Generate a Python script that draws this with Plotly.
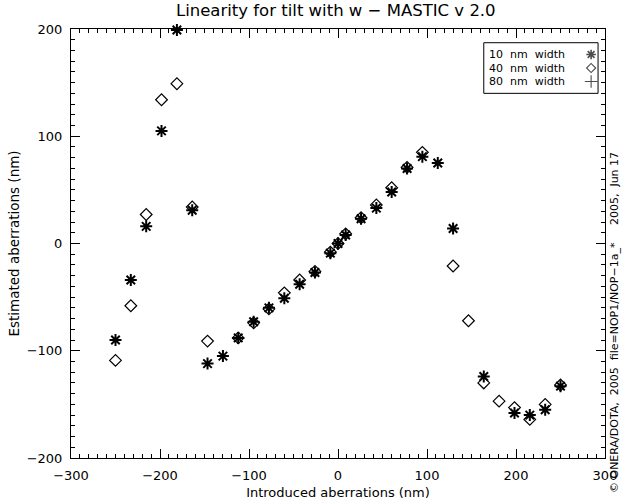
import plotly.graph_objects as go

# Introduced aberrations (nm)
x_nm = [-250, -232.8, -215.5, -198.3, -181.0, -163.8, -146.6, -129.3, -112.1, -94.8,
        -77.6, -60.3, -43.1, -25.9, -8.6, 0, 8.6, 25.9, 43.1, 60.3,
        77.6, 94.8, 112.1, 129.3, 146.6, 163.8, 181.0, 198.3, 215.5, 232.8, 250]

# Estimated aberrations, 10 nm width (asterisk)
est_10nm = [-90, -34, 16, 105, 199, 31, -112, -105, -88, -73,
            -60, -51, -38, -27, -9, 0, 8, 23, 33, 48,
            70, 81, 75, 14, None, -124, None, -158, -160, -155, -133]

# Estimated aberrations, 40 nm width (diamond)
est_40nm = [-109, -58, 27, 134, 149, 34, -91, None, -88, -74,
            -61, -46, -34, -26, -8, 0, 9, 24, 36, 52,
            71, 85, None, -21, -72, -130, -147, -153, -164, -150, -132]

legend_labels = ["10  nm  width", "40  nm  width", "80  nm  width"]
legend_symbols = ["asterisk-open", "diamond-open", "cross-thin-open"]

x_ticks = [-300, -200, -100, 0, 100, 200, 300]
y_ticks = [-200, -100, 0, 100, 200]

FONT = "DejaVu Sans"
BLACK = "black"

fig = go.Figure()
fig.add_trace(go.Scatter(x=x_nm, y=est_40nm, mode="markers", showlegend=False,
                         cliponaxis=False,
                         marker=dict(symbol="diamond-open", size=9, color=BLACK,
                                     line=dict(width=1.2, color=BLACK))))
fig.add_trace(go.Scatter(x=x_nm, y=est_10nm, mode="markers", showlegend=False,
                         cliponaxis=False,
                         marker=dict(symbol="asterisk-open", size=10, color=BLACK,
                                     line=dict(width=2, color=BLACK))))

# legend symbols drawn on an overlay axis (fractions of the plot area)
leg_x = [0.974, 0.974, 0.974]
leg_y = [0.9406, 0.9091, 0.8776]
fig.add_trace(go.Scatter(x=leg_x, y=leg_y, xaxis="x2", yaxis="y2", mode="markers",
                         showlegend=False, hoverinfo="skip",
                         marker=dict(symbol=legend_symbols, size=[8, 7, 9], color=BLACK,
                                     line=dict(width=[1.6, 1.1, 1.1], color=BLACK))))

axis_common = dict(showgrid=False, zeroline=False, showline=True, linecolor=BLACK,
                   linewidth=1, mirror="ticks", ticks="inside", ticklen=9,
                   tickcolor=BLACK, tickwidth=1, automargin=False,
                   tickfont=dict(family=FONT, size=13, color=BLACK))

fig.update_layout(
    width=623, height=504,
    margin=dict(l=71, r=18, t=29, b=46, autoexpand=False),
    paper_bgcolor="white", plot_bgcolor="white",
    title=dict(text="Linearity for tilt with w \u2212 MASTIC v 2.0",
               x=0.539, xanchor="center", y=0.979, yanchor="middle",
               font=dict(family=FONT, size=16.5, color=BLACK)),
    xaxis=dict(range=[-300, 300], tickvals=x_ticks,
               ticktext=[str(v).replace("-", "\u2212") for v in x_ticks],
               ticklabelstandoff=5,
               minor=dict(dtick=10, ticklen=4, ticks="inside", tickcolor=BLACK),
               title=dict(text="Introduced aberrations (nm)", standoff=6,
                          font=dict(family=FONT, size=13, color=BLACK)),
               **axis_common),
    yaxis=dict(range=[-200, 200], tickvals=y_ticks,
               ticktext=[str(v).replace("-", "\u2212") for v in y_ticks],
               ticklabelstandoff=5,
               minor=dict(dtick=10, ticklen=4, ticks="inside", tickcolor=BLACK),
               title=dict(text="Estimated aberrations (nm)", standoff=3,
                          font=dict(family=FONT, size=13.5, color=BLACK)),
               **axis_common),
    xaxis2=dict(range=[0, 1], overlaying="x", visible=False),
    yaxis2=dict(range=[0, 1], overlaying="y", visible=False),
    showlegend=False,
)

# legend box
fig.add_shape(type="rect", xref="x2", yref="y2", x0=0.773, x1=0.987, y0=0.85, y1=0.968,
              line=dict(color=BLACK, width=1), fillcolor="white", layer="below")
for lab, yy in zip(legend_labels, leg_y):
    fig.add_annotation(xref="x2", yref="y2", x=0.781, y=yy, text=lab, showarrow=False,
                       xanchor="left", yanchor="middle", borderpad=0,
                       font=dict(family=FONT, size=11, color=BLACK))

# side credit text
fig.add_annotation(xref="paper", yref="paper", x=1.019, y=0.315, textangle=-90,
                   text="\u00a9 ONERA/DOTA,  2005  file=NOP1/NOP\u22121a_*     2005,  Jun 17",
                   showarrow=False, xanchor="center", yanchor="middle",
                   font=dict(family=FONT, size=11, color=BLACK))

fig.write_html("out.html", config={"displayModeBar": False},
               post_script="document.body.style.margin='0';")
